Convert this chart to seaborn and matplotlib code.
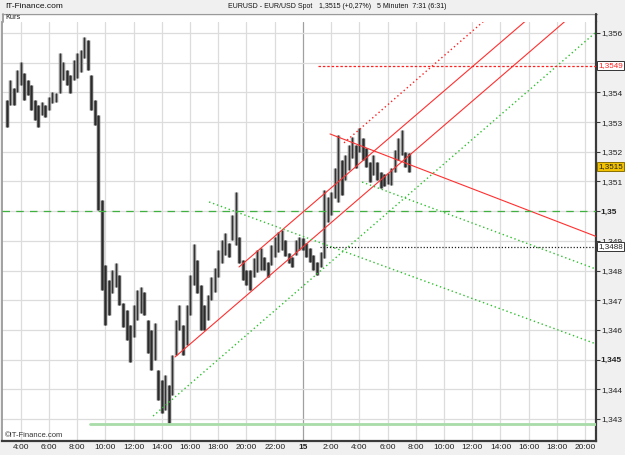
import numpy as np
import pandas as pd
import matplotlib
matplotlib.use('Agg')
import matplotlib.pyplot as plt
import matplotlib.transforms as mtransforms
from matplotlib.lines import Line2D
from matplotlib.patches import Rectangle
import seaborn as sns

# 15 minute bars, x = hours since midnight of the 14th
bar_hours = np.arange(12, 127) / 4
bar_high = [1.35374, 1.35442, 1.35415, 1.35475,
            1.35502, 1.35465, 1.35442, 1.35425,
            1.35374, 1.35358, 1.35368, 1.35358,
            1.35384, 1.35401, 1.35398, 1.35533,
            1.35502, 1.35475, 1.35459, 1.35509,
            1.35533, 1.35543, 1.35586, 1.35576,
            1.35459, 1.35374, 1.35324, 1.35038,
            1.34819, 1.34768, 1.34802, 1.34826,
            1.34785, 1.34691, 1.34667, 1.34617,
            1.34684, 1.34735, 1.34745, 1.34728,
            1.34634, 1.34600, 1.34624, 1.34465,
            1.34432, 1.34448, 1.34415, 1.34516,
            1.34634, 1.34684, 1.34617, 1.34684,
            1.34785, 1.34890, 1.34836, 1.34751,
            1.34684, 1.34718, 1.34778, 1.34809,
            1.34869, 1.34903, 1.34927, 1.34893,
            1.34987, 1.35065, 1.34913, 1.34836,
            1.34802, 1.34802, 1.34842, 1.34869,
            1.34876, 1.34846, 1.34829, 1.34886,
            1.34913, 1.34930, 1.34937, 1.34903,
            1.34859, 1.34846, 1.34903, 1.34913,
            1.34910, 1.34893, 1.34876, 1.34852,
            1.34829, 1.34863, 1.35071, 1.35048,
            1.35065, 1.35145, 1.35257, 1.35172,
            1.35189, 1.35223, 1.35250, 1.35223,
            1.35280, 1.35246, 1.35213, 1.35166,
            1.35189, 1.35166, 1.35132, 1.35125,
            1.35129, 1.35145, 1.35206, 1.35246,
            1.35273, 1.35199, 1.35196]
bar_low = [1.35283, 1.35358, 1.35358, 1.35401,
           1.35425, 1.35374, 1.35391, 1.35341,
           1.35307, 1.35283, 1.35324, 1.35317,
           1.35341, 1.35364, 1.35368, 1.35398,
           1.35442, 1.35425, 1.35398, 1.35442,
           1.35448, 1.35469, 1.35516, 1.35475,
           1.35341, 1.35290, 1.35004, 1.34735,
           1.34617, 1.34650, 1.34725, 1.34745,
           1.34684, 1.34610, 1.34566, 1.34492,
           1.34576, 1.34634, 1.34657, 1.34650,
           1.34522, 1.34465, 1.34499, 1.34364,
           1.34320, 1.34331, 1.34287, 1.34381,
           1.34516, 1.34600, 1.34516, 1.34549,
           1.34650, 1.34751, 1.34725, 1.34600,
           1.34600, 1.34634, 1.34701, 1.34728,
           1.34778, 1.34826, 1.34852, 1.34846,
           1.34903, 1.34886, 1.34826, 1.34768,
           1.34751, 1.34735, 1.34778, 1.34795,
           1.34802, 1.34802, 1.34778, 1.34819,
           1.34846, 1.34863, 1.34869, 1.34849,
           1.34826, 1.34812, 1.34852, 1.34869,
           1.34869, 1.34846, 1.34829, 1.34802,
           1.34785, 1.34812, 1.34842, 1.34964,
           1.34987, 1.35044, 1.35031, 1.35054,
           1.35105, 1.35139, 1.35179, 1.35145,
           1.35199, 1.35172, 1.35149, 1.35098,
           1.35122, 1.35105, 1.35078, 1.35085,
           1.35092, 1.35088, 1.35132, 1.35172,
           1.35189, 1.35149, 1.35132]

# drawn trend lines (hour, price) -> (hour, price)
red_channel_top = [(26.91, 1.35230), (44.77, 1.35969)]
red_channel_mid = [(19.47, 1.34812), (44.77, 1.35844)]
red_channel_low = [(14.94, 1.34509), (44.77, 1.35729)]
green_rising = [(13.38, 1.34310), (44.77, 1.35603)]
red_falling = [(25.92, 1.35260), (44.77, 1.34915)]
green_falling_1 = [(17.35, 1.35031), (44.77, 1.34553)]
green_falling_2 = [(28.19, 1.35098), (44.77, 1.34805)]

# horizontal levels (start hour, price)
level_135 = (2.67, 1.3500)
level_support = (8.91, 1.34284)
level_red = (25.07, 1.3549)
level_black = (25.21, 1.3488)
last_price = 1.3515

y_ticks = [1.343, 1.344, 1.345, 1.346, 1.347, 1.348, 1.349,
           1.350, 1.351, 1.352, 1.353, 1.354, 1.355, 1.356]
x_ticks = [4, 6, 8, 10, 12, 14, 16, 18, 20, 22, 24,
           26, 28, 30, 32, 34, 36, 38, 40, 42, 44]
x_labels = ['4:00', '6:00', '8:00', '10:00', '12:00', '14:00', '16:00',
            '18:00', '20:00', '22:00', '15', '2:00', '4:00', '6:00',
            '8:00', '10:00', '12:00', '14:00', '16:00', '18:00', '20:00']

sns.set_style('white')
plt.rcParams['font.family'] = ['Liberation Sans', 'DejaVu Sans']

W, H = 625, 455
fig = plt.figure(figsize=(W / 100, H / 100), dpi=100)
fig.patch.set_facecolor('#f0f0f0')
ax = fig.add_axes([2 / W, 1 - 441 / H, 594 / W, 419 / H])
ax.set_facecolor('white')

xmin, xmax = 2.675, 44.77
ax.set_xlim(xmin, xmax)
ax.set_ylim(1.34226, 1.35637)

# grid
for t in x_ticks:
    ax.axvline(t, color='#a0a0a0' if t == 24 else '#dcdcdc', lw=0.9, zorder=0)
for t in y_ticks:
    ax.axhline(t, color='#dcdcdc', lw=0.9, zorder=0)

# price bars
mids = (np.array(bar_high) + np.array(bar_low)) / 2
colors = ['#8c8c8c' if i > 0 and mids[i] > mids[i - 1] else '#565656'
          for i in range(len(mids))]
ax.vlines(bar_hours, bar_low, bar_high, colors=colors, lw=2.5, zorder=3)
ax.vlines(bar_hours, bar_low, bar_high, colors='#222222', lw=0.6, zorder=3)

def trend(pts, color, ls, lw=0.8):
    df = pd.DataFrame(pts, columns=['hour', 'price'])
    sns.lineplot(data=df, x='hour', y='price', ax=ax, color=color,
                 linestyle=ls, lw=lw, zorder=4)

dot = (0, (1, 2))
trend(red_channel_top, '#ff2020', dot, 1.0)
trend(red_channel_mid, '#ff3030', '-')
trend(red_channel_low, '#ff3030', '-')
trend(red_falling, '#ff3030', '-')
trend(green_rising, '#30c030', dot, 1.0)
trend(green_falling_1, '#30c030', dot, 1.0)
trend(green_falling_2, '#30c030', dot, 1.0)

trend([level_135, (xmax, level_135[1])], '#40b040', (0, (6, 5)), 0.9)
trend([level_support, (xmax, level_support[1])], '#a8dca8', '-', 2.0)
trend([level_red, (xmax, level_red[1])], '#ff2020', (0, (2, 1.5)), 0.9)
trend([level_black, (xmax, level_black[1])], '#202020', (0, (1, 1.5)), 0.9)

ax.set_xlabel('')
ax.set_ylabel('')

# axes look
ax.spines['top'].set_visible(False)
ax.spines['left'].set_color('#9a9a9a')
ax.spines['left'].set_linewidth(1.3)
for s in ['right', 'bottom']:
    ax.spines[s].set_color('#3a3a3a')
    ax.spines[s].set_linewidth(1.6)

ax.yaxis.tick_right()
ax.set_yticks(y_ticks)
ax.set_yticklabels([('%.3f' % v).rstrip('0').replace('.', ',') for v in y_ticks])
for lab, v in zip(ax.get_yticklabels(), y_ticks):
    if v in (1.350, 1.345):
        lab.set_fontweight('bold')
ax.set_xticks(x_ticks)
ax.set_xticklabels(x_labels)
ax.get_xticklabels()[10].set_fontweight('bold')
ax.tick_params(axis='y', length=3, width=0.8, color='#3a3a3a', pad=0.5,
               labelsize=6, labelcolor='#222222')
ax.tick_params(axis='x', length=0, pad=2.5, labelsize=6, labelcolor='#222222')

# "Kurs" strip above the plot
fig.add_artist(Rectangle((2 / W, 1 - 22 / H), 594 / W, 8.5 / H, transform=fig.transFigure,
                         fc='white', ec='none'))
fig.add_artist(Line2D([2 / W, 596.5 / W], [1 - 13.5 / H, 1 - 13.5 / H],
                      transform=fig.transFigure, color='#9a9a9a', lw=1.0))
fig.add_artist(Line2D([2.6 / W, 2.6 / W], [1 - 13.5 / H, 1 - 22 / H],
                      transform=fig.transFigure, color='#9a9a9a', lw=1.3))
fig.add_artist(Line2D([596 / W, 596 / W], [1 - 13.5 / H, 1 - 22 / H],
                      transform=fig.transFigure, color='#3a3a3a', lw=1.6))
fig.text(5 / W, 1 - 17.5 / H, 'Kurs', fontsize=5.3, va='center', ha='left', color='#222222')

# price boxes on the right axis
tr = mtransforms.blended_transform_factory(ax.transAxes, ax.transData)
box_kw = dict(transform=tr, fontsize=5.8, va='center', ha='left', clip_on=False, zorder=6)
ax.text(1.004, level_red[1], '1,3549', color='#ff2020',
        bbox=dict(boxstyle='square,pad=0.12', fc='white', ec='#333333', lw=0.7), **box_kw)
ax.text(1.004, last_price, '1,3515', color='#222222',
        bbox=dict(boxstyle='square,pad=0.12', fc='#f2c200', ec='#8a7000', lw=0.7), **box_kw)
ax.text(1.004, level_black[1], '1,3488', color='#222222',
        bbox=dict(boxstyle='square,pad=0.12', fc='white', ec='#333333', lw=0.7), **box_kw)

# header texts
head_kw = dict(fontsize=5.0, va='center', ha='left', color='#111111')
fig.text(5 / W, 1 - 7 / H, 'IT-Finance.com', **dict(head_kw, fontsize=6))
fig.text(228 / W, 1 - 7 / H, 'EURUSD - EUR/USD Spot', **head_kw)
fig.text(319 / W, 1 - 7 / H, '1,3515 (+0,27%)', **head_kw)
fig.text(377 / W, 1 - 7 / H, '5 Minuten  7:31 (6:31)', **head_kw)
ax.text(0.004, 0.004, '©IT-Finance.com', transform=ax.transAxes, fontsize=5.5,
        va='bottom', ha='left', color='#333333')

fig.savefig('out.png', dpi=100, facecolor=fig.get_facecolor())
